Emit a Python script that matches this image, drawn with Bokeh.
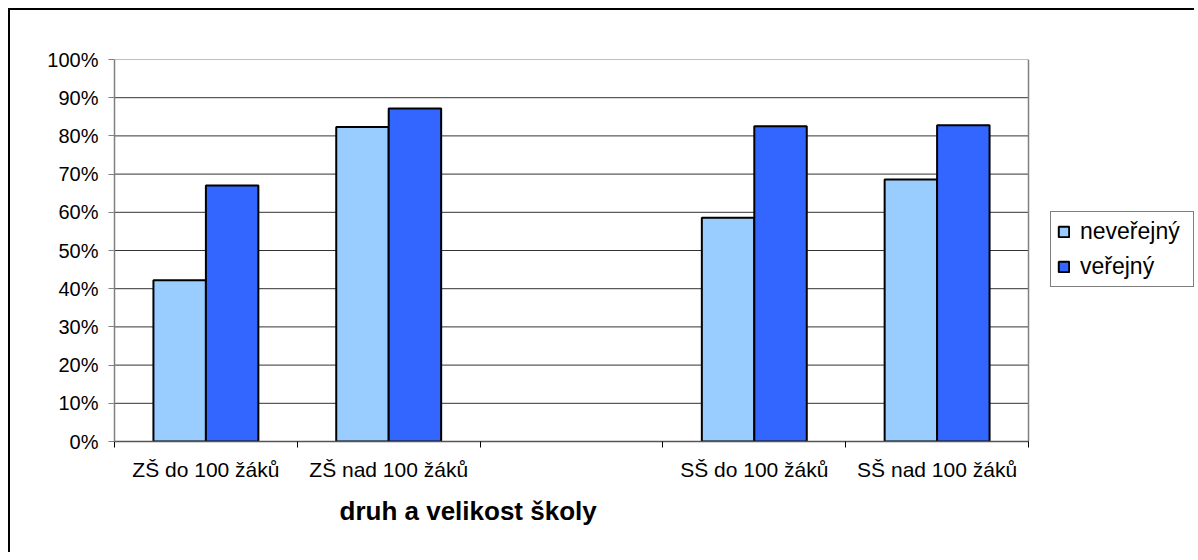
from bokeh.plotting import figure
from bokeh.models import (ColumnDataSource, FixedTicker, NumeralTickFormatter,
                          Legend, LegendItem, Range1d, Span, Title)
from bokeh.transform import dodge
from bokeh.embed import file_html
from bokeh.resources import INLINE

# ---- data ----
categories = ["ZŠ do 100 žáků", "ZŠ nad 100 žáků", "", "SŠ do 100 žáků", "SŠ nad 100 žáků"]
neverejny = [0.422, 0.823, None, 0.586, 0.686]
verejny = [0.670, 0.872, None, 0.825, 0.828]
series_names = ["neveřejný", "veřejný"]
y_ticks = [0.0, 0.1, 0.2, 0.3, 0.4, 0.5, 0.6, 0.7, 0.8, 0.9, 1.0]
x_title = "druh a velikost školy"

colors = ["#99CCFF", "#3366FF"]
FONT = "Liberation Sans"

# ---- layout (pixels) ----
W, H = 1186, 544
LEFT, TOP, BOTTOM = 104, 49, 113
PLOT_W = 914                      # width of the drawn plot area
FRAME_W = W - LEFT                # frame extends to the right edge (room for legend)
n = len(categories)
x_end = n * FRAME_W / PLOT_W

idx = [i for i, c in enumerate(categories) if c]
src = ColumnDataSource(dict(
    x=[i + 0.5 for i in idx],
    nev=[neverejny[i] for i in idx],
    ver=[verejny[i] for i in idx],
))

p = figure(width=W, height=H, output_backend="svg", toolbar_location=None,
           x_range=Range1d(0, x_end), y_range=Range1d(0, 1),
           min_border_left=LEFT, min_border_right=0,
           min_border_top=TOP, min_border_bottom=BOTTOM)
p.styles = {"border-left": "2px solid black", "border-top": "2px solid black",
            "margin-left": "8px", "margin-top": "8px"}

p.background_fill_color = "white"
p.border_fill_color = "white"
p.outline_line_color = None

# horizontal grid lines, limited to the plot area
p.xgrid.visible = False
p.ygrid.visible = False
grid_colors = ["#333333"] * (len(y_ticks) - 1) + ["#808080"]
gsrc = ColumnDataSource(dict(y=y_ticks, x0=[0] * len(y_ticks), x1=[n] * len(y_ticks),
                             c=grid_colors))
p.segment(x0="x0", x1="x1", y0="y", y1="y", source=gsrc,
          line_color="c", line_width=1, level="underlay")

# right edge of plot area
p.add_layout(Span(location=n, dimension="height", line_color="#808080",
                  line_width=1.5, level="underlay"))

bw = 0.287
r1 = p.vbar(x=dodge("x", -bw / 2, range=p.x_range), top="nev", width=bw, source=src,
            fill_color=colors[0], line_color="black", line_width=2)
r2 = p.vbar(x=dodge("x", bw / 2, range=p.x_range), top="ver", width=bw, source=src,
            fill_color=colors[1], line_color="black", line_width=2)

# y axis
ya = p.yaxis[0]
ya.ticker = FixedTicker(ticks=y_ticks, minor_ticks=[])
ya.formatter = NumeralTickFormatter(format="0%")
ya.axis_line_color = "#808080"
ya.axis_line_width = 1.5
ya.major_tick_line_color = "#808080"
ya.major_tick_in = 0
ya.major_tick_out = 6
ya.minor_tick_line_color = None
ya.major_label_text_font = FONT
ya.major_label_text_font_size = "20px"
ya.major_label_text_color = "black"
ya.major_label_standoff = 10

# x axis (category labels, boundary ticks)
xa = p.xaxis[0]
centers = [i + 0.5 for i in idx]
xa.bounds = (0, n)
xa.ticker = FixedTicker(ticks=centers, minor_ticks=list(range(n + 1)))
xa.major_label_overrides = {i + 0.5: categories[i] for i in idx}
xa.axis_line_color = "#555555"
xa.axis_line_width = 1.5
xa.major_tick_line_color = None
xa.major_tick_in = 0
xa.major_tick_out = 0
xa.minor_tick_line_color = "black"
xa.minor_tick_in = 0
xa.minor_tick_out = 6
xa.major_label_text_font = FONT
xa.major_label_text_font_size = "21px"
xa.major_label_text_color = "black"
xa.major_label_standoff = 10

# axis title, placed left of the plot centre as in the reference
t = Title(text=x_title, align="left", offset=225, standoff=21,
          text_font=FONT, text_font_size="26px", text_font_style="bold",
          text_color="black")
p.add_layout(t, "below")

legend = Legend(items=[LegendItem(label=series_names[0], renderers=[r1]),
                       LegendItem(label=series_names[1], renderers=[r2])],
                location=(PLOT_W + 22, 154))
legend.label_text_font = FONT
legend.label_text_font_size = "23px"
legend.label_text_color = "black"
legend.glyph_width = 13
legend.glyph_height = 13
legend.label_standoff = 10
legend.label_width = 107
legend.padding = 6
legend.spacing = 8
legend.margin = 0
legend.border_line_color = "black"
legend.border_line_width = 1
legend.background_fill_color = "white"
legend.background_fill_alpha = 1
p.add_layout(legend)

open("out.html", "w").write(file_html(p, INLINE))
